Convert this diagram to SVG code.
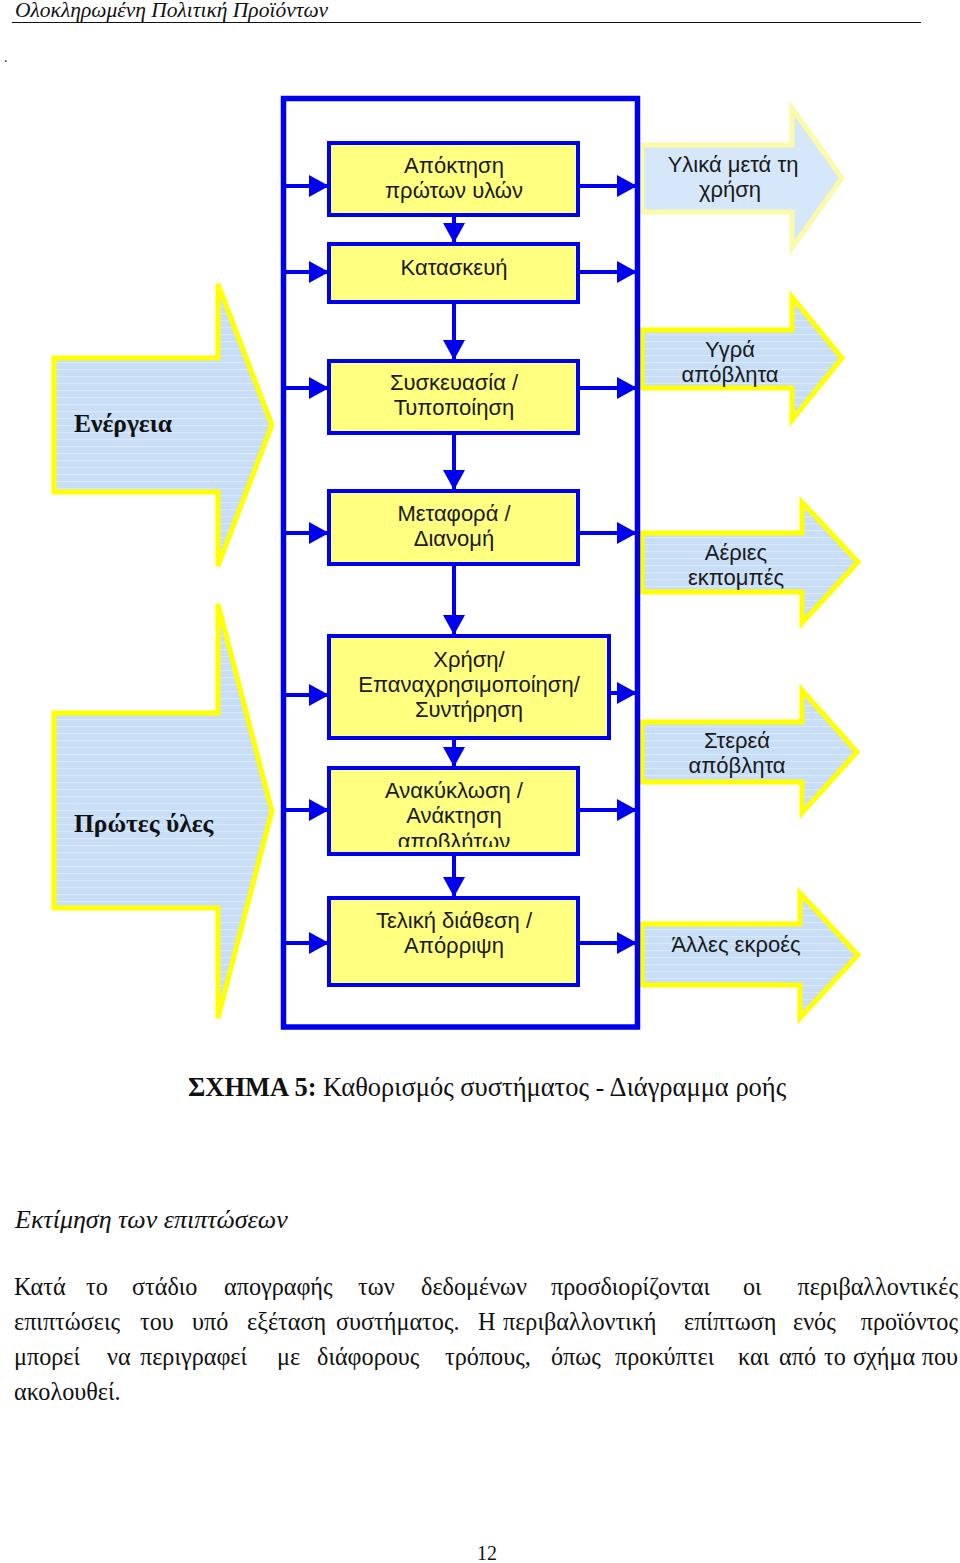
<svg xmlns="http://www.w3.org/2000/svg" width="960" height="1563" viewBox="0 0 960 1563">
<defs>
<style>
.big{fill:url(#stripes);stroke:#FFFF00;stroke-width:5;stroke-linejoin:miter}
.faded{fill:#D6E7F9;stroke:#FAFAA8;stroke-width:5}
.box{fill:#FFFF80;stroke:#0000F0;stroke-width:4}
.frame{fill:none;stroke:#0000F0;stroke-width:5.5}
.conn{stroke:#0000F0;stroke-width:4;fill:none;marker-end:url(#ah)}
.lbl{font-family:"Liberation Sans",Arial,sans-serif;font-size:22px;fill:#1a1a1a;text-anchor:middle}
.bold{font-family:"Liberation Serif","Times New Roman",serif;font-size:25.5px;font-weight:bold;fill:#111}
.serif{font-family:"Liberation Serif","Times New Roman",serif;fill:#111}
</style>
<pattern id="stripes" patternUnits="userSpaceOnUse" width="10" height="7">
<rect width="10" height="7" fill="#C8DEF7"/>
<rect y="5" width="10" height="1.2" fill="#D8E9FA"/>
</pattern>
<marker id="ah" markerUnits="userSpaceOnUse" markerWidth="20" markerHeight="22" refX="19" refY="11" orient="auto">
<path d="M0,0 L20,11 L0,22 Z" fill="#0000F0"/>
</marker>
<clipPath id="clip6"><rect x="331" y="769" width="245" height="78"/></clipPath>
</defs>
<rect width="960" height="1563" fill="#FFFFFF"/>

<g id="header">
<text class="serif" x="15" y="17" font-size="21.5" font-style="italic">Ολοκληρωμένη Πολιτική Προϊόντων</text>
<line x1="12" y1="22.5" x2="921" y2="22.5" stroke="#111" stroke-width="1.2"/>
<text class="serif" x="4" y="62" font-size="14">.</text>
</g>

<g id="input-energy">
<path class="big" d="M54,358 L218,358 L218,284 L272,425 L218,566 L218,492 L54,492 Z"/>
<text class="bold" x="74" y="432">Ενέργεια</text>
</g>
<g id="input-raw">
<path class="big" d="M54,713 L218,713 L218,604 L272,811 L218,1018 L218,908 L54,908 Z"/>
<text class="bold" x="74" y="832">Πρώτες ύλες</text>
</g>

<g id="out-materials">
<path class="faded" d="M642,145 L792,145 L792,108 L842,178 L792,248 L792,212 L642,212 Z"/>
<text class="lbl" x="733" y="172">Υλικά μετά τη</text>
<text class="lbl" x="730" y="197">χρήση</text>
</g>
<g id="out-liquid">
<path class="big" d="M642,330 L792,330 L792,297 L842,358 L792,420 L792,388 L642,388 Z"/>
<text class="lbl" x="730" y="357">Υγρά</text>
<text class="lbl" x="730" y="382">απόβλητα</text>
</g>
<g id="out-gas">
<path class="big" d="M642,533 L802,533 L802,502 L858,562 L802,623 L802,592 L642,592 Z"/>
<text class="lbl" x="736" y="560">Αέριες</text>
<text class="lbl" x="736" y="585">εκπομπές</text>
</g>
<g id="out-solid">
<path class="big" d="M642,722 L802,722 L802,690 L857,752 L802,813 L802,782 L642,782 Z"/>
<text class="lbl" x="737" y="748">Στερεά</text>
<text class="lbl" x="737" y="773">απόβλητα</text>
</g>
<g id="out-other">
<path class="big" d="M642,924 L800,924 L800,893 L858,955 L800,1018 L800,985 L642,985 Z"/>
<text class="lbl" x="736" y="952">Άλλες εκροές</text>
</g>

<g id="system-boundary">
<rect class="frame" x="283.5" y="98.5" width="354" height="928.5"/>
</g>

<g id="connectors">
<line class="conn" x1="454" y1="216" x2="454" y2="242"/>
<line class="conn" x1="454" y1="302" x2="454" y2="359"/>
<line class="conn" x1="454" y1="433" x2="454" y2="489"/>
<line class="conn" x1="454" y1="564" x2="454" y2="634"/>
<line class="conn" x1="454" y1="738" x2="454" y2="766"/>
<line class="conn" x1="454" y1="855" x2="454" y2="896"/>

<line class="conn" x1="286" y1="186" x2="328" y2="186"/>
<line class="conn" x1="286" y1="272" x2="328" y2="272"/>
<line class="conn" x1="286" y1="388" x2="328" y2="388"/>
<line class="conn" x1="286" y1="533" x2="328" y2="533"/>
<line class="conn" x1="286" y1="695" x2="328" y2="695"/>
<line class="conn" x1="286" y1="810" x2="328" y2="810"/>
<line class="conn" x1="286" y1="943" x2="328" y2="943"/>

<line class="conn" x1="580" y1="186" x2="636" y2="186"/>
<line class="conn" x1="580" y1="272" x2="636" y2="272"/>
<line class="conn" x1="580" y1="388" x2="636" y2="388"/>
<line class="conn" x1="580" y1="533" x2="636" y2="533"/>
<line class="conn" x1="611" y1="693" x2="636" y2="693"/>
<line class="conn" x1="580" y1="810" x2="636" y2="810"/>
<line class="conn" x1="580" y1="943" x2="636" y2="943"/>
</g>

<g id="n1">
<rect class="box" x="329" y="143" width="249" height="72"/>
<text class="lbl" x="454" y="173">Απόκτηση</text>
<text class="lbl" x="454" y="198">πρώτων υλών</text>
</g>
<g id="n2">
<rect class="box" x="329" y="244" width="249" height="58"/>
<text class="lbl" x="454" y="275">Κατασκευή</text>
</g>
<g id="n3">
<rect class="box" x="329" y="361" width="249" height="72"/>
<text class="lbl" x="454" y="390">Συσκευασία /</text>
<text class="lbl" x="454" y="415">Τυποποίηση</text>
</g>
<g id="n4">
<rect class="box" x="329" y="491" width="249" height="73"/>
<text class="lbl" x="454" y="521">Μεταφορά /</text>
<text class="lbl" x="454" y="546">Διανομή</text>
</g>
<g id="n5">
<rect class="box" x="329" y="636" width="280" height="102"/>
<text class="lbl" x="469" y="667">Χρήση/</text>
<text class="lbl" x="469" y="692">Επαναχρησιμοποίηση/</text>
<text class="lbl" x="469" y="717">Συντήρηση</text>
</g>
<g id="n6">
<rect class="box" x="329" y="768" width="249" height="86"/>
<g clip-path="url(#clip6)">
<text class="lbl" x="454" y="798">Ανακύκλωση /</text>
<text class="lbl" x="454" y="823">Ανάκτηση</text>
<text class="lbl" x="454" y="849">αποβλήτων</text>
</g>
</g>
<g id="n7">
<rect class="box" x="329" y="898" width="249" height="87"/>
<text class="lbl" x="454" y="928">Τελική διάθεση /</text>
<text class="lbl" x="454" y="953">Απόρριψη</text>
</g>

<g id="caption">
<text class="serif" x="188" y="1096" font-size="26.5"><tspan font-weight="bold">ΣΧΗΜΑ 5:</tspan> Καθορισμός συστήματος - Διάγραμμα ροής</text>
</g>

<g id="body-text" class="serif" font-size="24.2">
<text x="15" y="1228" font-style="italic" font-size="26">Εκτίμηση των επιπτώσεων</text>
<text y="1295"><tspan x="14">Κατά</tspan><tspan x="86">το</tspan><tspan x="132">στάδιο</tspan><tspan x="224">απογραφής</tspan><tspan x="358">των</tspan><tspan x="421">δεδομένων</tspan><tspan x="551">προσδιορίζονται</tspan><tspan x="743">οι</tspan><tspan x="958" text-anchor="end">περιβαλλοντικές</tspan></text>
<text y="1330"><tspan x="14">επιπτώσεις</tspan><tspan x="140">του</tspan><tspan x="192">υπό</tspan><tspan x="247">εξέταση</tspan><tspan x="336">συστήματος.</tspan><tspan x="478">Η</tspan><tspan x="503">περιβαλλοντική</tspan><tspan x="684">επίπτωση</tspan><tspan x="793">ενός</tspan><tspan x="958" text-anchor="end">προϊόντος</tspan></text>
<text y="1365"><tspan x="14">μπορεί</tspan><tspan x="107">να</tspan><tspan x="140">περιγραφεί</tspan><tspan x="277">με</tspan><tspan x="317">διάφορους</tspan><tspan x="445">τρόπους,</tspan><tspan x="551">όπως</tspan><tspan x="615">προκύπτει</tspan><tspan x="738">και</tspan><tspan x="779">από</tspan><tspan x="824">το</tspan><tspan x="853">σχήμα</tspan><tspan x="958" text-anchor="end">που</tspan></text>
<text x="14" y="1400">ακολουθεί.</text>
</g>

<g id="page-number">
<text class="serif" x="487" y="1560" font-size="20" text-anchor="middle">12</text>
</g>
</svg>
